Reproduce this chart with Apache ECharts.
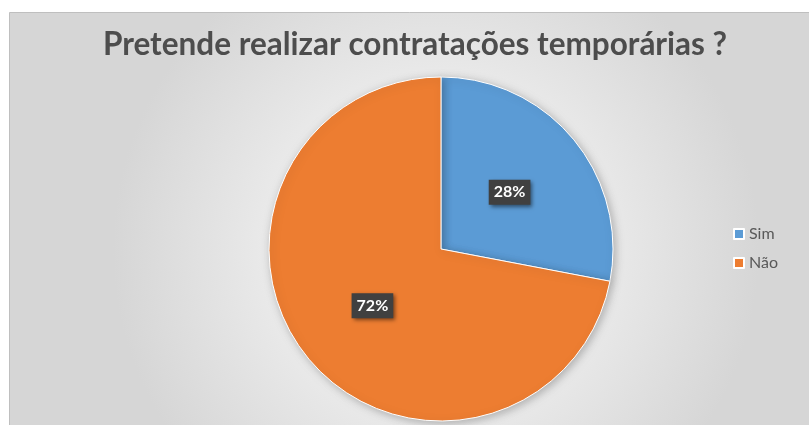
<!DOCTYPE html>
<html>
<head>
<meta charset="utf-8">
<script src="https://cdn.jsdelivr.net/npm/echarts@6/dist/echarts.min.js"></script>
<style>
  html, body { margin: 0; padding: 0; background: #fff; }
  #chart { width: 809px; height: 425px; }
</style>
</head>
<body>
<div id="chart"></div>
<script>
const categories = ['Sim', 'Não']
const shares = [28, 72]
const colors = ['#5B9BD5', '#ED7D31']

const chart = echarts.init(document.getElementById('chart'))

const option = {
  animation: false,
  color: colors,
  graphic: [
    {
      type: 'rect',
      z: -10,
      shape: { x: 9.5, y: 12.5, width: 820, height: 430 },
      style: {
        fill: {
          type: 'radial', x: 0.52, y: 0.55, r: 0.75,
          colorStops: [
            { offset: 0, color: '#ffffff' },
            { offset: 1, color: '#d6d6d6' }
          ]
        },
        stroke: '#bfbfbf',
        lineWidth: 1
      }
    }
  ],
  title: {
    text: 'Pretende realizar contratações temporárias ?',
    left: 410,
    textAlign: 'center',
    top: 24,
    textStyle: {
      fontFamily: 'Lato',
      fontWeight: 'bold',
      fontSize: 31.5,
      color: '#4d4d4d'
    }
  },
  legend: {
    orient: 'vertical',
    left: 728,
    top: 221,
    itemWidth: 10,
    itemHeight: 10,
    itemGap: 13,
    icon: 'rect',
    textStyle: { fontFamily: 'Lato', fontSize: 16, color: '#595959' },
    data: categories
  },
  series: [
    {
      type: 'pie',
      center: [441, 249],
      radius: [0, 172],
      startAngle: 90,
      clockwise: true,
      itemStyle: {
        borderColor: '#ffffff',
        borderWidth: 1,
        shadowBlur: 8,
        shadowColor: 'rgba(0,0,0,0.25)',
        shadowOffsetX: 2,
        shadowOffsetY: 2
      },
      label: {
        show: true,
        position: 'inside',
        formatter: p => p.value + '%',
        fontFamily: 'Lato',
        fontWeight: 'bold',
        fontSize: 16,
        color: '#ffffff',
        backgroundColor: '#404040',
        padding: [5, 5, 4, 5],
        shadowBlur: 4,
        shadowColor: 'rgba(0,0,0,0.5)',
        shadowOffsetX: 2,
        shadowOffsetY: 2
      },
      labelLine: { show: false },
      data: categories.map((c, i) => ({ name: c, value: shares[i] }))
    }
  ]
}

chart.setOption(option)
</script>
</body>
</html>
